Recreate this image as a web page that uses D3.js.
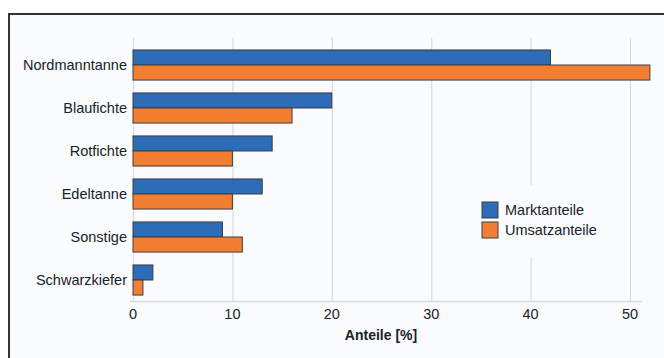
<!DOCTYPE html>
<meta charset="utf-8">
<script src="https://d3js.org/d3.v7.min.js"></script>
<style>
  body { margin: 0; background: #fff; }
  text { font-family: Arial, "Liberation Sans", sans-serif; fill: #18222a; }
</style>
<div id="chart"></div>
<script>

// data
var categories = ["Nordmanntanne", "Blaufichte", "Rotfichte", "Edeltanne", "Sonstige", "Schwarzkiefer"];
var seriesNames = ["Marktanteile", "Umsatzanteile"];
var marktanteile = [42, 20, 14, 13, 9, 2];
var umsatzanteile = [52, 16, 10, 10, 11, 1];
var xTicks = [0, 10, 20, 30, 40, 50];
var xTitle = "Anteile [%]";

var colors = ["#2d6cb6", "#f27f31"];

var width = 664, height = 358;

var svg = d3.select("#chart")
  .append("svg")
    .attr("width", width)
    .attr("height", height);

// frame
svg.append("rect")
  .attr("x", 9).attr("y", 14)
  .attr("width", 670).attr("height", 370)
  .attr("fill", "#fafbfd")
  .attr("stroke", "#333")
  .attr("stroke-width", 2);

var x = d3.scaleLinear()
  .domain([0, 50])
  .range([133, 630]);

var y = d3.scaleBand()
  .domain(categories)
  .range([43.5, 301.5])
  .paddingInner(0.3)
  .paddingOuter(0.15);

var ySub = d3.scaleBand()
  .domain(seriesNames)
  .range([0, y.bandwidth()]);

var color = d3.scaleOrdinal()
  .domain(seriesNames)
  .range(colors);

var data = categories.map(function(c, i) {
  return {cat: c, values: [
    {key: seriesNames[0], value: marktanteile[i]},
    {key: seriesNames[1], value: umsatzanteile[i]}
  ]};
});

// gridlines
svg.append("g")
  .selectAll("line")
  .data(xTicks)
  .enter().append("line")
    .attr("x1", function(d) { return x(d) + 0.5; })
    .attr("x2", function(d) { return x(d) + 0.5; })
    .attr("y1", 38)
    .attr("y2", 301)
    .attr("stroke", "#d6dce4")
    .attr("stroke-width", 1.2);

// baseline
svg.append("line")
  .attr("x1", x(0) - 3).attr("x2", 642)
  .attr("y1", 301.5).attr("y2", 301.5)
  .attr("stroke", "#d6dce4")
  .attr("stroke-width", 1.5);

// tick labels
svg.append("g")
  .selectAll("text")
  .data(xTicks)
  .enter().append("text")
    .attr("x", function(d) { return x(d); })
    .attr("y", 319)
    .attr("text-anchor", "middle")
    .style("font-size", "14.5px")
    .text(function(d) { return d; });

// axis title
svg.append("text")
  .attr("x", 381)
  .attr("y", 340)
  .attr("text-anchor", "middle")
  .style("font-size", "14px")
  .style("font-weight", "bold")
  .text(xTitle);

// category labels
svg.append("g")
  .selectAll("text")
  .data(categories)
  .enter().append("text")
    .attr("x", 127)
    .attr("y", function(d) { return y(d) + y.bandwidth() / 2; })
    .attr("dy", "0.35em")
    .attr("text-anchor", "end")
    .style("font-size", "14.5px")
    .text(function(d) { return d; });

// legend background (hides the gridline behind it)
svg.append("rect")
  .attr("x", 470).attr("y", 185)
  .attr("width", 150).attr("height", 72)
  .attr("fill", "#fafbfd");

// bars
svg.append("g")
  .selectAll("g")
  .data(data)
  .enter().append("g")
    .attr("transform", function(d) { return "translate(0," + y(d.cat) + ")"; })
    .selectAll("rect")
    .data(function(d) { return d.values; })
    .enter().append("rect")
      .attr("x", x(0))
      .attr("y", function(d) { return ySub(d.key); })
      .attr("width", function(d) { return x(d.value) - x(0); })
      .attr("height", ySub.bandwidth())
      .attr("fill", function(d) { return color(d.key); })
      .attr("stroke", "#3a3f45")
      .attr("stroke-width", 1);

// legend
var legend = svg.append("g")
  .selectAll("g")
  .data(seriesNames)
  .enter().append("g")
    .attr("transform", function(d, i) { return "translate(482," + (202 + i * 20) + ")"; });

legend.append("rect")
  .attr("width", 16).attr("height", 16)
  .attr("fill", function(d) { return color(d); })
  .attr("stroke", "#3a3f45");

legend.append("text")
  .attr("x", 23)
  .attr("y", 8)
  .attr("dy", "0.35em")
  .style("font-size", "14.5px")
  .text(function(d) { return d; });

</script>
